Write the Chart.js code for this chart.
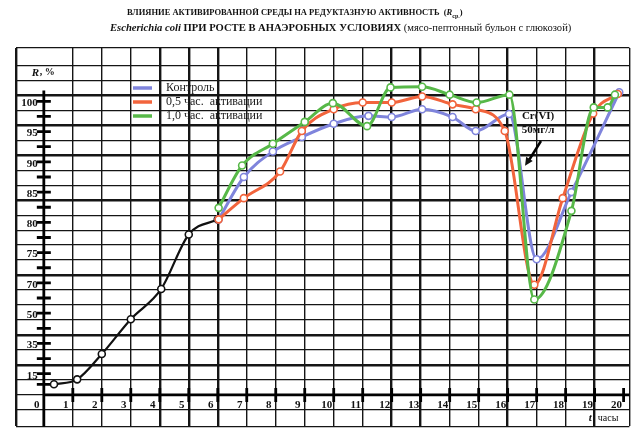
<!DOCTYPE html>
<html lang="ru">
<head>
<meta charset="UTF-8">
<title>Редуктазная активность E. coli</title>
<script src="https://cdn.jsdelivr.net/npm/chart.js"></script>
<style>
  html, body { margin: 0; padding: 0; background: #fff; }
  #wrap { position: relative; width: 635px; height: 432px; }
  .ttl {
    position: absolute; white-space: nowrap;
    font-family: "Liberation Serif", serif; font-weight: bold; color: #111;
  }
  #t1 { left: 127px; top: 7px; font-size: 8.5px; }
  #t2 { left: 110px; top: 22px; font-size: 10.6px; }
  .ttl .n { font-weight: normal; }
</style>
</head>
<body>
<div id="wrap">
  <canvas id="chart" width="635" height="432"></canvas>
  <div class="ttl" id="t1">ВЛИЯНИЕ АКТИВИРОВАННОЙ СРЕДЫ НА РЕДУКТАЗНУЮ АКТИВНОСТЬ &nbsp;(<i>R</i><sub style="font-size:6px">ср.</sub>)</div>
  <div class="ttl" id="t2"><i>Escherichia coli</i> ПРИ РОСТЕ В АНАЭРОБНЫХ УСЛОВИЯХ <span class="n">(мясо-пептонный бульон с глюкозой)</span></div>
</div>
<script>
// tick labels of the paper axes
const hourTicks = [0, 1, 2, 3, 4, 5, 6, 7, 8, 9, 10, 11, 12, 13, 14, 15, 16, 17, 18, 19, 20];
const rTicks = [0, 15, 35, 50, 70, 75, 80, 85, 90, 95, 100];

// common growth before activation (black)
const baseX = [0.35, 1.15, 2.0, 3.0, 4.05, 5.0, 6.0];
const baseR = [7.5, 11, 28, 47, 66, 78, 80.5];

// Контроль
const ctrlX = [6.03, 6.9, 7.9, 8.9, 10.0, 11.2, 12.0, 13.05, 14.1, 14.9, 16.05, 17.0, 18.2, 19.85];
const ctrlR = [80.5, 87.5, 91.7, 94.1, 96.3, 97.6, 97.4, 98.7, 97.4, 95.1, 97.9, 73.9, 85.0, 101.5];

// 0,5 час. активации
const halfX = [6.03, 6.9, 8.15, 8.9, 10.0, 11.0, 12.0, 13.05, 14.1, 14.9, 15.9, 16.92, 17.9, 18.95, 19.8];
const halfR = [80.5, 84.0, 88.4, 95.1, 98.7, 99.8, 99.8, 100.8, 99.5, 98.7, 95.1, 68.8, 84.0, 98.0, 101.2];

// 1,0 час. активации
const fullX = [6.03, 6.84, 7.9, 9.0, 9.97, 11.15, 11.96, 13.05, 14.0, 14.93, 16.06, 16.92, 18.2, 18.97, 19.45, 19.7];
const fullR = [82.4, 89.4, 93.0, 96.6, 99.7, 95.9, 102.3, 102.4, 101.1, 99.8, 101.1, 59, 81.9, 99.0, 99.0, 101.1];

// the R axis of the paper is not uniform: 0 at the x axis, 15 a bit above,
// then every label two cells (2.02 paper units) apart
function tickPos(i) { return i === 0 ? 0 : 1.42 + 2.02 * (i - 1); }
function toPaper(r) {
  let i = 0;
  while (i < rTicks.length - 2 && r > rTicks[i + 1]) i++;
  const a = rTicks[i], b = rTicks[i + 1];
  return tickPos(i) + (r - a) / (b - a) * (tickPos(i + 1) - tickPos(i));
}
function pts(xs, rs) { return xs.map((x, i) => ({ x: x, y: toPaper(rs[i]) })); }

const thickX = [4, 5, 6, 12, 13, 16, 19];
const thickY = [2, 4, 8, 13, 16, 18, 20, 23];

const serif = '"Liberation Serif", "DejaVu Serif", serif';

const paperAxes = {
  id: 'paperAxes',
  beforeDatasetsDraw(chart) {
    const { ctx, chartArea } = chart;
    const x = chart.scales.x, y = chart.scales.y;
    const x0 = x.getPixelForValue(0), y0 = y.getPixelForValue(0);
    ctx.save();
    ctx.strokeStyle = '#000';
    ctx.lineWidth = 2.8;
    ctx.beginPath();
    ctx.moveTo(x0, y.getPixelForValue(toPaper(101.8)));
    ctx.lineTo(x0, chartArea.bottom);
    ctx.moveTo(x0, y0);
    ctx.lineTo(chartArea.right, y0);
    ctx.stroke();

    // tick marks
    ctx.lineWidth = 2.8;
    ctx.beginPath();
    hourTicks.forEach(h => {
      if (h === 0) return;
      const px = x.getPixelForValue(h);
      ctx.moveTo(px, y0 - 7);
      ctx.lineTo(px, y0 + 7);
    });
    for (let i = 1; i < rTicks.length; i++) {
      const py = y.getPixelForValue(tickPos(i));
      const pm = y.getPixelForValue((tickPos(i) + tickPos(i - 1)) / 2);
      ctx.moveTo(x0 - 7, py); ctx.lineTo(x0 + 7, py);
      ctx.moveTo(x0 - 7, pm); ctx.lineTo(x0 + 7, pm);
    }
    ctx.stroke();

    // tick labels
    ctx.fillStyle = '#111';
    ctx.font = 'bold 11px ' + serif;
    ctx.textAlign = 'center';
    ctx.textBaseline = 'middle';
    hourTicks.forEach(h => ctx.fillText(String(h), x.getPixelForValue(h) - 7, y0 + 10));
    ctx.textAlign = 'right';
    rTicks.forEach((r, i) => {
      if (i === 0) return;
      ctx.fillText(String(r), x0 - 6, y.getPixelForValue(tickPos(i)) + 2);
    });

    // axis titles
    ctx.textAlign = 'left';
    ctx.font = 'bold italic 11px ' + serif;
    ctx.fillText('R', x0 - 12, y.getPixelForValue(21.5));
    ctx.font = 'bold 10px ' + serif;
    ctx.fillText(', %', x0 - 4, y.getPixelForValue(21.5));
    ctx.font = 'bold italic 11px ' + serif;
    ctx.fillText('t', x.getPixelForValue(18.8), y.getPixelForValue(-1.55));
    ctx.font = '10px ' + serif;
    ctx.fillText(', часы', x.getPixelForValue(18.8) + 4, y.getPixelForValue(-1.55));
    ctx.restore();
  },
  afterDraw(chart) {
    const { ctx } = chart;
    const x = chart.scales.x, y = chart.scales.y;
    ctx.save();
    // legend
    ctx.font = '12px ' + serif;
    ctx.textAlign = 'left';
    ctx.textBaseline = 'middle';
    let row = 0;
    chart.data.datasets.forEach(ds => {
      if (!ds.label) return;
      const ly = 88 + row * 14;
      ctx.strokeStyle = ds.borderColor;
      ctx.lineWidth = 3.5;
      ctx.beginPath();
      ctx.moveTo(133, ly); ctx.lineTo(152, ly);
      ctx.stroke();
      ctx.fillStyle = '#1a1a1a';
      ctx.fillText(ds.label, 166, ly);
      row++;
    });

    // Cr(VI) note with arrow
    ctx.fillStyle = '#111';
    ctx.font = 'bold 11px ' + serif;
    ctx.textAlign = 'center';
    ctx.fillText('Cr(VI)', x.getPixelForValue(17.05), y.getPixelForValue(18.6));
    ctx.fillText('50мг/л', x.getPixelForValue(17.05), y.getPixelForValue(17.7));
    const ax = x.getPixelForValue(17.15), ay = y.getPixelForValue(16.95);
    const bx = x.getPixelForValue(16.6), by = y.getPixelForValue(15.3);
    ctx.strokeStyle = '#000';
    ctx.lineWidth = 2.5;
    ctx.beginPath(); ctx.moveTo(ax, ay); ctx.lineTo(bx + 3, by - 4); ctx.stroke();
    const ang = Math.atan2(by - ay, bx - ax);
    ctx.beginPath();
    ctx.moveTo(bx, by);
    ctx.lineTo(bx - 9 * Math.cos(ang - 0.45), by - 9 * Math.sin(ang - 0.45));
    ctx.lineTo(bx - 9 * Math.cos(ang + 0.45), by - 9 * Math.sin(ang + 0.45));
    ctx.closePath();
    ctx.fill();
    ctx.restore();
  }
};

const line = {
  borderWidth: 3,
  pointRadius: 3.5,
  pointBorderWidth: 1.6,
  pointBackgroundColor: '#fff',
  cubicInterpolationMode: 'monotone',
  fill: false
};

new Chart(document.getElementById('chart'), {
  type: 'line',
  data: {
    datasets: [
      { ...line, label: 'Контроль', data: pts(ctrlX, ctrlR), borderColor: '#7f84dc', pointBorderColor: '#7f84dc', order: 3 },
      { ...line, label: '0,5 час.  активации', data: pts(halfX, halfR), borderColor: '#f2643c', pointBorderColor: '#f2643c', order: 2 },
      { ...line, label: '1,0 час.  активации', data: pts(fullX, fullR), borderColor: '#57b848', pointBorderColor: '#57b848', order: 1 },
      { ...line, label: '', data: pts(baseX, baseR), borderColor: '#111', pointBorderColor: '#111', borderWidth: 2.2, order: 4 }
    ]
  },
  options: {
    responsive: false,
    animation: false,
    layout: { padding: { left: 16, right: 3, top: 48, bottom: 0 } },
    plugins: { legend: { display: false }, tooltip: { enabled: false }, title: { display: false } },
    scales: {
      x: {
        type: 'linear', min: -0.96, max: 20.2,
        ticks: { display: false, stepSize: 1 },
        border: { display: false },
        grid: {
          drawTicks: false, color: '#151515',
          lineWidth: c => (c.tick && (thickX.includes(c.tick.value) || c.index === 0)) ? 2.4 : 1.4
        }
      },
      y: {
        type: 'linear', min: -2.1, max: 23.16,
        ticks: { display: false, stepSize: 1 },
        border: { display: false },
        grid: {
          drawTicks: false, color: '#151515',
          lineWidth: c => (c.tick && thickY.includes(c.tick.value)) ? 2.4 : 1.3
        }
      }
    }
  },
  plugins: [paperAxes]
});
</script>
</body>
</html>
